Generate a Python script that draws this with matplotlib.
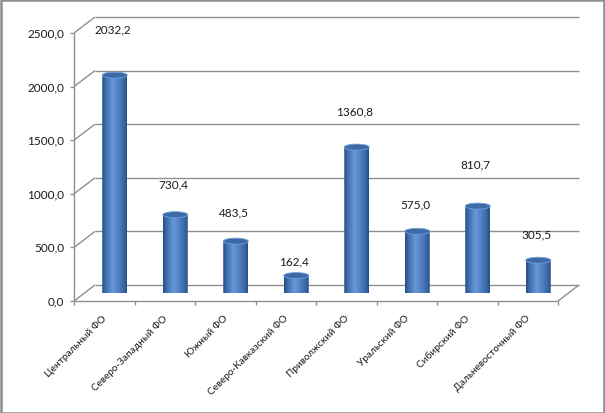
import numpy as np
import matplotlib
matplotlib.use("Agg")
import matplotlib.pyplot as plt
from matplotlib.patches import Ellipse, PathPatch, Rectangle
from matplotlib.path import Path
from matplotlib.colors import LinearSegmentedColormap

plt.rcParams['font.family'] = ['Lato', 'DejaVu Sans']

# data
districts = ["Центральный ФО", "Северо-Западный ФО", "Южный ФО",
             "Северо-Кавказский ФО", "Приволжский ФО", "Уральский ФО",
             "Сибирский ФО", "Дальневосточный ФО"]
values = [2032.2, 730.4, 483.5, 162.4, 1360.8, 575.0, 810.7, 305.5]
y_ticks = [0, 500, 1000, 1500, 2000, 2500]

# label heights as placed in the original (value units, mid-depth plane)
label_pos = [2463, 1017, 756, 299, 1698, 830, 1203, 550]

W, H = 605, 414
fig = plt.figure(figsize=(W / 100, H / 100), dpi=100)
# axes = mid-depth plane of the 3D box
ax = fig.add_axes([84.5 / W, (H - 294) / H, 484 / W, 268 / H])
ax.set_xlim(-0.5, 7.5)
ax.set_ylim(0, 2500)
ax.axis('off')

px_x = 8 / 484.0          # category units per pixel
px_y = 2500 / 268.0       # value units per pixel
dx, dy = 10.5 * px_x, 8 * px_y   # half depth
grid_c = '#8f8f8f'
lw = 1.0

def line(xs, ys, **kw):
    ax.plot(xs, ys, color=grid_c, lw=lw, clip_on=False, solid_capstyle='butt', **kw)

# back wall grid + left wall diagonals + y labels
for v in y_ticks:
    line([-0.5 + dx, 7.5 + dx], [v + dy, v + dy])
    line([-0.5 - dx, -0.5 + dx], [v - dy, v + dy])
    line([-0.5 - dx - 4 * px_x, -0.5 - dx], [v - dy, v - dy])
    ax.text(-0.5 - dx - 10 * px_x, v - dy, f"{v:.1f}".replace('.', ','),
            ha='right', va='center', fontsize=8.5, color='#1a1a1a')

# front axis and floor
line([-0.5 - dx, -0.5 - dx], [-dy, 2500 - dy])
line([-0.5 - dx, 7.5 - dx], [-dy, -dy])
line([7.5 - dx, 7.5 + dx], [-dy, dy])
for k in range(9):
    line([k - 0.5 - dx, k - 0.5 - dx], [-dy, -dy - 4 * px_y])

# cylinders
bar_w = 25 * px_x
eb = 3 * px_y
cmap = LinearSegmentedColormap.from_list('cyl', [
    (0.0, '#294d80'), (0.12, '#3b6aa9'), (0.42, '#6698da'),
    (0.62, '#5585c6'), (0.88, '#3967a6'), (1.0, '#294f84')])
grad = np.linspace(0, 1, 64).reshape(1, -1)

for i, v in enumerate(values):
    x0, x1 = i - bar_w / 2, i + bar_w / 2
    t = np.linspace(np.pi, 2 * np.pi, 40)
    arc = np.column_stack([i + bar_w / 2 * np.cos(t), eb * np.sin(t)])
    verts = np.vstack([[[x0, v]], arc, [[x1, v]], [[x0, v]]])
    clip = PathPatch(Path(verts), transform=ax.transData, facecolor='none', edgecolor='none')
    ax.add_patch(clip)
    im = ax.imshow(grad, cmap=cmap, extent=[x0, x1, -eb, v], aspect='auto',
                   interpolation='bilinear', zorder=3)
    im.set_clip_path(clip)
    ax.add_patch(Ellipse((i, v), bar_w, 2 * eb, facecolor='#3d6aa7',
                         edgecolor='#6f9fdc', lw=0.6, zorder=4))
    ax.text(i - 2 * px_x, label_pos[i], f"{v:.1f}".replace('.', ','),
            ha='center', va='center', fontsize=8.5, color='#1a1a1a', zorder=5)

# category labels
for i, name in enumerate(districts):
    ax.annotate(name, xy=(i - dx, -dy), xytext=(1, -15), textcoords='offset pixels',
                rotation=45, rotation_mode='anchor', ha='right', va='center',
                fontsize=7.2, color='#1a1a1a', annotation_clip=False)

ax.set_xlim(-0.5, 7.5)
ax.set_ylim(0, 2500)

fig.add_artist(Rectangle((0.5 / W, 0.5 / H), 603 / W, 413 / H, transform=fig.transFigure,
                         fill=False, edgecolor='#8c8c8c', lw=1.8))

fig.savefig('out.png', dpi=100)
